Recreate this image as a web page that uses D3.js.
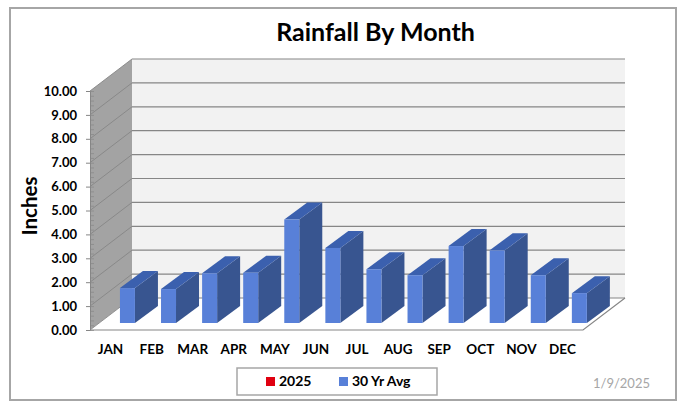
<!DOCTYPE html>
<html><head><meta charset="utf-8">
<script src="https://cdn.jsdelivr.net/npm/d3@7"></script>
<style>html,body{margin:0;padding:0;background:#fff}svg{display:block}text{font-family:Lato,sans-serif;font-weight:700;fill:#000}</style>
</head><body><div id="c"></div>
<script>
const months=["JAN","FEB","MAR","APR","MAY","JUN","JUL","AUG","SEP","OCT","NOV","DEC"];
const avg30=[1.46,1.42,2.08,2.1,4.33,3.14,2.25,2.0,3.22,3.04,2.0,1.25];
const current2025=[];
const yTicks=[0,1,2,3,4,5,6,7,8,9,10];
const legendItems=[{name:"2025",color:"#e00010"},{name:"30 Yr Avg",color:"#5880d8"}];

const W=691,H=406;
const svg=d3.select("#c").append("svg").attr("width",W).attr("height",H);
svg.append("rect").attr("x",10).attr("y",8).attr("width",666).attr("height",392).attr("fill","#fff").attr("stroke","#a6a6a6").attr("stroke-width",2);

const x=d3.scaleBand().domain(months).range([90,583]);
const y=d3.scaleLinear().domain([0,10]).range([330,91]);
const DX=42,DY=-32;
const path=p=>"M"+p.map(q=>q.join(",")).join("L")+"Z";

// back wall
svg.append("path").attr("d",path([[90+DX,y(10)+DY],[583+DX,y(10)+DY],[583+DX,y(0)+DY],[90+DX,y(0)+DY]])).attr("fill","#f2f2f2");
// side wall
svg.append("path").attr("d",path([[90,y(10)],[90+DX,y(10)+DY],[90+DX,y(0)+DY],[90,y(0)]])).attr("fill","#a3a3a3");
// floor
svg.append("path").attr("d",path([[90,y(0)],[90+DX,y(0)+DY],[583+DX,y(0)+DY],[583,y(0)]])).attr("fill","#fff");
// gridlines
const grid=svg.append("g").attr("fill","none").attr("stroke","#868686").attr("stroke-width",1.2);
yTicks.forEach(t=>{
  grid.append("path").attr("d",`M${90+DX},${y(t)+DY}L${583+DX},${y(t)+DY}`);
  grid.append("path").attr("d",`M90,${y(t)}L${90+DX},${y(t)+DY}`).attr("stroke-width",0.9);
});
grid.append("path").attr("d",`M90,${y(0)}L583,${y(0)}L${583+DX},${y(0)+DY}`);

// value axis with major/minor ticks
const minor=d3.range(0,10.01,0.2);
svg.append("g").attr("transform","translate(90,0)").call(d3.axisLeft(y).tickValues(minor).tickSize(0).tickFormat(""))
  .call(g=>g.select(".domain").attr("stroke","#868686"))
  .call(g=>g.selectAll(".tick line").attr("x2",4).attr("x1",0).attr("stroke","#868686").attr("stroke-width",.7));
svg.append("g").attr("transform","translate(90,0)").call(d3.axisLeft(y).tickValues(yTicks).tickSize(4).tickPadding(9).tickFormat(d3.format(".2f")))
  .call(g=>g.select(".domain").remove())
  .call(g=>g.selectAll(".tick line").attr("stroke","#868686"))
  .call(g=>g.selectAll("text").attr("x",-13).style("font-family","Lato,sans-serif").style("font-size","13px").style("font-weight","700").attr("fill","#000"));

// bars
const fx=m=>x(m)+x.bandwidth()/2+9.4, bw=15, dx=23, dy=-17, yOff=-7;
const bars=svg.append("g").selectAll("g").data(months.map((m,i)=>({m,v:avg30[i]}))).join("g");
bars.append("path").attr("fill","#385590").attr("d",d=>{const l=fx(d.m)+bw,t=y(d.v)+yOff,b=y(0)+yOff;return path([[l,t],[l+dx,t+dy],[l+dx,b+dy],[l,b]]);});
bars.append("path").attr("fill","#3b60ae").attr("d",d=>{const l=fx(d.m),t=y(d.v)+yOff;return path([[l,t],[l+dx,t+dy],[l+bw+dx,t+dy],[l+bw,t]]);});
bars.append("rect").attr("fill","#5880d8").attr("x",d=>fx(d.m)).attr("width",bw).attr("y",d=>y(d.v)+yOff).attr("height",d=>y(0)-y(d.v));

// category axis
svg.append("g").attr("transform","translate(0,351)").call(d3.axisBottom(x).tickSize(0).tickPadding(0))
  .call(g=>g.select(".domain").remove())
  .call(g=>g.selectAll("text").style("font-family","Lato,sans-serif").style("font-size","13.5px").style("font-weight","700").attr("fill","#000").attr("y",0).attr("dy","0").attr("dominant-baseline","middle"));

svg.append("text").attr("x",375.5).attr("y",41).attr("text-anchor","middle").attr("font-size",25).text("Rainfall By Month");
svg.append("text").attr("transform","translate(37,206) rotate(-90)").attr("text-anchor","middle").attr("font-size",20.5).text("Inches");

// legend
svg.append("rect").attr("x",237).attr("y",368).attr("width",200).attr("height",27).attr("fill","#fff").attr("stroke","#a6a6a6").attr("stroke-width",1.5);
const lx=[266,339], tx=[279,352];
legendItems.forEach((d,i)=>{
  svg.append("rect").attr("x",lx[i]).attr("y",377).attr("width",9).attr("height",9).attr("fill",d.color);
  svg.append("text").attr("x",tx[i]).attr("y",386).attr("font-size",14).text(d.name);
});
svg.append("text").attr("x",593).attr("y",388).attr("font-size",13).style("font-weight",400).style("fill","#a6a6a6").text("1/9/2025");
</script></body></html>
